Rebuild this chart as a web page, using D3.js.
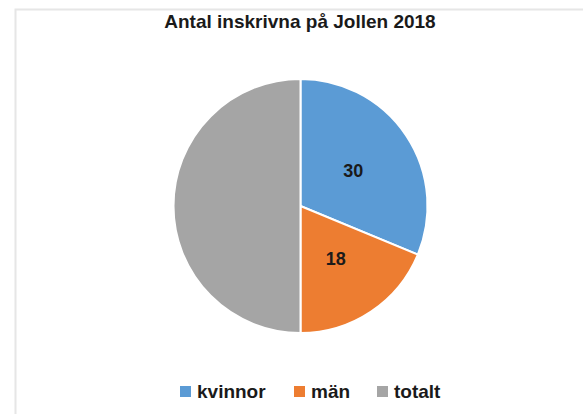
<!DOCTYPE html>
<html>
<head>
<meta charset="utf-8">
<script src="https://cdn.jsdelivr.net/npm/d3@7"></script>
<style>
  body { margin: 0; background: #fff; }
  svg { display: block; font-family: "Liberation Sans", Arial, sans-serif; }
</style>
</head>
<body>
<script>
let w = 583
let h = 414

let categories = ["kvinnor", "män", "totalt"]
let values = [30, 18, 48]
let shownLabels = [true, true, false]
let colors = ["#5b9bd5", "#ed7d31", "#a5a5a5"]

let svg = d3.select("body")
    .append("svg")
    .attr("width", w)
    .attr("height", h)

// chart area frame (only top and left edges visible)
svg.append("path")
    .attr("d", "M15.5," + h + "V9.5H" + w)
    .attr("fill", "none")
    .attr("stroke", "#e6e6e6")
    .attr("stroke-width", 2)

svg.append("text")
    .attr("x", 300)
    .attr("y", 28)
    .attr("text-anchor", "middle")
    .attr("font-size", 19)
    .attr("font-weight", "bold")
    .attr("fill", "#1a1a1a")
    .text("Antal inskrivna på Jollen 2018")

let cx = 300.5, cy = 206, r = 127

let pie = d3.pie().sort(null).value(d => d)
let arcs = pie(values)
let arc = d3.arc().innerRadius(0).outerRadius(r)
let labelArc = d3.arc().innerRadius(r * 0.5).outerRadius(r * 0.5)

let g = svg.append("g").attr("transform", "translate(" + cx + "," + cy + ")")

g.selectAll("path")
    .data(arcs)
    .enter()
    .append("path")
    .attr("d", arc)
    .attr("fill", (d, i) => colors[i])
    .attr("stroke", "#fff")
    .attr("stroke-width", 2)

g.selectAll("text")
    .data(arcs.filter((d, i) => shownLabels[i]))
    .enter()
    .append("text")
    .attr("transform", d => "translate(" + labelArc.centroid(d) + ")")
    .attr("dy", "0.35em")
    .attr("text-anchor", "middle")
    .attr("font-size", 18)
    .attr("font-weight", "bold")
    .attr("fill", "#1a1a1a")
    .text(d => d.data)

// legend
let legendX = [180, 294, 377]
let legend = svg.append("g")
    .selectAll("g")
    .data(categories)
    .enter()
    .append("g")
    .attr("transform", (d, i) => "translate(" + legendX[i] + ",386)")

legend.append("rect")
    .attr("width", 11)
    .attr("height", 11)
    .attr("fill", (d, i) => colors[i])

legend.append("text")
    .attr("x", 17)
    .attr("y", 5.5)
    .attr("dy", "0.35em")
    .attr("font-size", 19)
    .attr("font-weight", "bold")
    .attr("fill", "#1a1a1a")
    .text(d => d)
</script>
</body>
</html>
